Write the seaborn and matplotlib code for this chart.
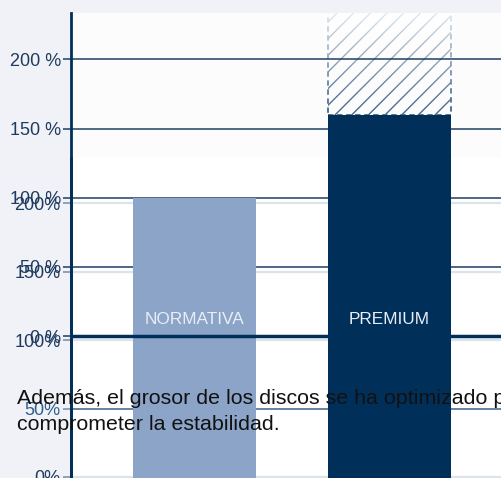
import numpy as np
import pandas as pd
import matplotlib.pyplot as plt
from matplotlib.patches import Rectangle
import seaborn as sns

# datos
categorias = ["NORMATIVA", "PREMIUM"]
valores = [100, 160]
potencial = [np.nan, 240]
ticks_a = [0, 50, 100, 150, 200]
etiquetas_a = ["0 %", "50 %", "100 %", "150 %", "200 %"]
ticks_b = [0, 50, 100, 150, 200]
etiquetas_b = ["0%", "50%", "100%", "150%", "200%"]
texto = ("Además, el grosor de los discos se ha optimizado para\n"
         "comprometer la estabilidad.")

sns.set_style("white")
plt.rcParams["font.family"] = ["Liberation Sans", "DejaVu Sans"]
plt.rcParams["hatch.linewidth"] = 1.0

NAVY = "#00305a"
GRID = "#1f3f62"
LABEL = "#1e3b5e"

fig = plt.figure(figsize=(5.01, 4.78), dpi=100, facecolor="#f0f2f7")

# capa de fondo (segundo eje, desplazado)
ax_b = fig.add_axes([71 / 501, 0, 430 / 501, 320 / 478], zorder=0)
# capa principal
ax_a = fig.add_axes([71 / 501, 0, 430 / 501, 465 / 478], zorder=1)

fig.patches.append(Rectangle((71 / 501, 320 / 478), 430 / 501, 145 / 478,
                             transform=fig.transFigure, facecolor="#fcfcfd",
                             edgecolor="none", zorder=-1))

# --- capa B
ax_b.set_facecolor("white")
ax_b.set_xlim(0, 1)
ax_b.set_ylim(-0.8, 233.1)
ax_b.set_xticks([])
ax_b.set_yticks(ticks_b, etiquetas_b)
ax_b.yaxis.grid(True, color="#dde3ea", lw=1.6)
for s in ["top", "right", "bottom"]:
    ax_b.spines[s].set_visible(False)
ax_b.spines["left"].set_color(NAVY)
ax_b.spines["left"].set_linewidth(2)
ax_b.tick_params(axis="y", left=True, length=5.8, width=1.2, color="#8094aa",
                 pad=1.5, labelsize=13, labelcolor=LABEL)
ax_b.get_ygridlines()[1].set_color("#3c6185")
ax_b.get_ygridlines()[1].set_linewidth(1.1)
ax_b.get_yticklabels()[1].set_color("#2f5f8f")

# --- capa A
ax_a.set_facecolor("none")
df = pd.DataFrame({"categoria": categorias, "valor": valores})
sns.barplot(data=df, x="categoria", y="valor", hue="categoria",
            palette=["#8ca4c8", NAVY], width=0.63, saturation=1,
            legend=False, ax=ax_a, zorder=2, linewidth=0, edgecolor="none")

ylo, yhi = -102.6, 233.5
ax_a.set_ylim(ylo, yhi)
ax_a.set_xlim(-0.633, 1.572)

# las barras bajan hasta el borde inferior
for p in ax_a.patches:
    top = p.get_y() + p.get_height()
    p.set_y(ylo)
    p.set_height(top - ylo)

# potencial rayado
pot = np.array(potencial, dtype=float)
val = np.array(valores, dtype=float)
mask = np.isfinite(pot)
xs = np.arange(len(categorias))[mask]
hb = ax_a.bar(xs, pot[mask] - val[mask], bottom=val[mask], width=0.63,
              facecolor="none", edgecolor="#46688c", hatch="//",
              linestyle=(0, (3, 2)), linewidth=1.3, zorder=0.3)
grad = np.ones((256, 1, 4))
grad[:, 0, 3] = np.linspace(0.88, 0.0, 256) ** 1.2
for p in hb:
    x0, w = p.get_x(), p.get_width()
    ax_a.imshow(grad, extent=(x0 - 0.02, x0 + w + 0.02, p.get_y(), yhi),
                aspect="auto", zorder=0.4, interpolation="bicubic")
ax_a.set_ylim(ylo, yhi)
ax_a.set_xlim(-0.633, 1.572)

ax_a.set_axisbelow(True)
ax_a.set_xticks([])
ax_a.set_xlabel("")
ax_a.set_ylabel("")
ax_a.set_yticks(ticks_a, etiquetas_a)
ax_a.yaxis.grid(True, color=GRID, lw=1.1)
for s in ["top", "right", "bottom"]:
    ax_a.spines[s].set_visible(False)
ax_a.spines["left"].set_color(NAVY)
ax_a.spines["left"].set_linewidth(2)
ax_a.tick_params(axis="y", left=True, length=5.8, width=1.1, color=GRID,
                 pad=1.5, labelsize=13, labelcolor=LABEL)
ax_a.axhline(0, color=NAVY, lw=2.5, zorder=3)

for i, c in enumerate(categorias):
    ax_a.annotate(c, (i, 0), xytext=(0, 12), textcoords="offset points",
                  ha="center", va="center", color="#e9eef6", fontsize=12.4,
                  zorder=4)

fig.text(17 / 501, 1 - 389 / 478, texto, ha="left", va="top", fontsize=15.4,
         color="#111111", linespacing=1.45)

plt.savefig("out.png", dpi=100)
plt.close()
